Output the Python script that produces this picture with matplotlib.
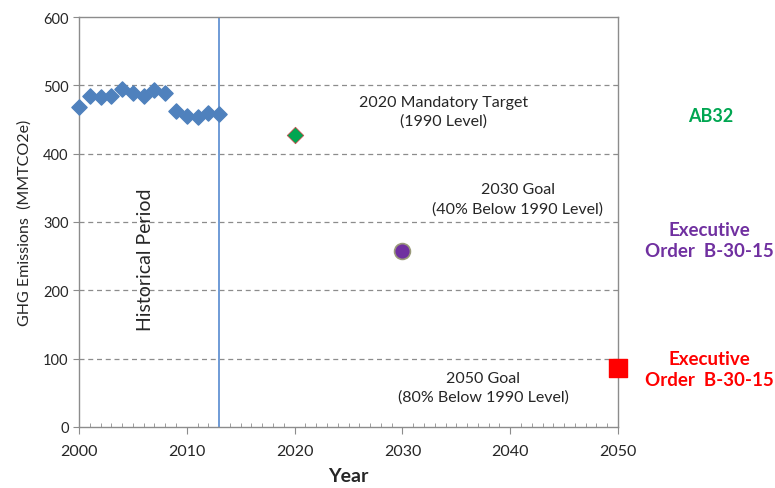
import matplotlib
matplotlib.use("Agg")
from matplotlib import pyplot as plt
from matplotlib.ticker import MultipleLocator
import numpy as np

plt.rcParams['font.family'] = ['Lato', 'DejaVu Sans']

# historical emissions (MMTCO2e)
hist_years = [2000, 2001, 2002, 2003, 2004, 2005, 2006, 2007, 2008, 2009, 2010, 2011, 2012, 2013]
hist_vals = [468, 484, 483, 484, 494, 489, 484, 493, 489, 462, 455, 454, 459, 458]

# targets
target_years = [2020, 2030, 2050]
target_vals = [427, 258, 86]
hist_end = 2013

dpi = 100
fig = plt.figure(figsize=(7.75, 4.89), dpi=dpi)
ax = fig.add_axes([79/775, 61/489, 539/775, 410/489])

grey = '#8c8c8c'
txt = '#262626'

for v in [100, 200, 300, 400, 500]:
    ax.axhline(v, color=grey, lw=0.9, ls=(0, (4, 3)), zorder=1)

ax.axvline(hist_end, color='#6f9bd6', lw=1.4, zorder=2)

ax.scatter(hist_years, hist_vals, marker='D', s=60, color='#4f81bd', zorder=3, clip_on=False)
ax.scatter(target_years[0], target_vals[0], marker='D', s=70, color='#00a651',
           edgecolors='#c0504d', linewidths=0.6, zorder=3)
ax.scatter(target_years[1], target_vals[1], marker='o', s=130, color='#7030a0',
           edgecolors='#9a9a7a', linewidths=1.2, zorder=3)
ax.scatter(target_years[2], target_vals[2], marker='s', s=150, color='#ff0000',
           clip_on=False, zorder=4)

ax.set_xlim(2000, 2050)
ax.set_ylim(0, 600)
ax.xaxis.set_major_locator(MultipleLocator(10))
ax.xaxis.set_minor_locator(MultipleLocator(1))
ax.yaxis.set_major_locator(MultipleLocator(100))

for s in ax.spines.values():
    s.set_color(grey)
    s.set_linewidth(1.0)
ax.tick_params(axis='x', which='major', direction='out', length=5, color=grey,
               labelsize=11.5, labelcolor=txt, pad=7)
ax.tick_params(axis='x', which='minor', direction='in', length=3, color=grey)
ax.tick_params(axis='y', which='major', direction='out', length=4, color=grey,
               labelsize=10.5, labelcolor=txt)

ax.set_xlabel('Year', fontsize=14, fontweight='bold', color=txt, labelpad=7)
ax.set_ylabel('GHG Emissions  (MMTCO2e)', fontsize=11.5, color=txt, labelpad=8)

ax.text(2033.8, 462, '2020 Mandatory Target\n(1990 Level)', ha='center', va='center',
        fontsize=11.5, color=txt, linespacing=1.45)
ax.text(2040.7, 334, '2030 Goal\n(40% Below 1990 Level)', ha='center', va='center',
        fontsize=11.5, color=txt, linespacing=1.45)
ax.text(2037.5, 58, '2050 Goal\n(80% Below 1990 Level)', ha='center', va='center',
        fontsize=11.5, color=txt, linespacing=1.45)
ax.text(2006.2, 246, 'Historical Period', rotation=90, ha='center', va='center',
        fontsize=14, color=txt)

fig.text(711/775, 1 - 117/489, 'AB32', ha='center', va='center', fontsize=13,
         fontweight='bold', color='#00a651')
fig.text(709/775, 1 - 241/489, 'Executive\nOrder  B-30-15', ha='center', va='center',
         fontsize=13.5, fontweight='bold', color='#7030a0', linespacing=1.35)
fig.text(709/775, 1 - 370/489, 'Executive\nOrder  B-30-15', ha='center', va='center',
         fontsize=13.5, fontweight='bold', color='#ff0000', linespacing=1.35)

fig.savefig('out.png', dpi=dpi)
